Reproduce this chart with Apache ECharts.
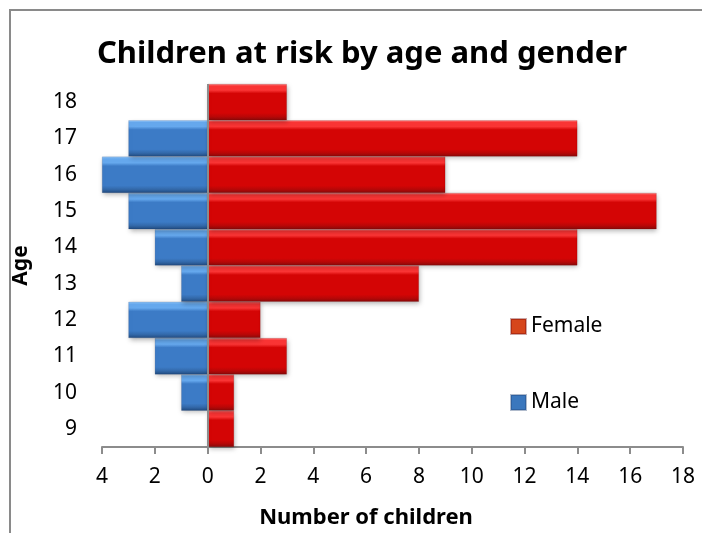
<!DOCTYPE html>
<html>
<head>
<meta charset="utf-8">
<script src="https://cdn.jsdelivr.net/npm/echarts@6/dist/echarts.min.js"></script>
<style>
  html, body { margin: 0; padding: 0; background: #fff; }
  #chart { width: 702px; height: 533px; }
</style>
</head>
<body>
<div id="chart"></div>
<script>
// Ages from youngest (bottom) to oldest (top)
const ages = ['9', '10', '11', '12', '13', '14', '15', '16', '17', '18'];
// Children counts per age
const femaleCounts = [1, 1, 3, 2, 8, 14, 17, 9, 14, 3];
const maleCounts = [0, 1, 2, 3, 1, 2, 3, 4, 3, 0];
// Value axis range and tick step
const axisMin = -4;
const axisMax = 18;
const axisStep = 2;

const FONT = '"Noto Sans", "DejaVu Sans", sans-serif';

// Bevelled bar fill: bright top edge, flat body, dark bottom edge
function bevel(c) {
  return new echarts.graphic.LinearGradient(0, 0, 0, 1, [
    { offset: 0, color: c.edge },
    { offset: 0.06, color: c.light },
    { offset: 0.17, color: c.light },
    { offset: 0.26, color: c.main },
    { offset: 0.8, color: c.main },
    { offset: 0.9, color: c.shade },
    { offset: 1, color: c.dark }
  ]);
}

const femaleFill = bevel({ edge: '#ff7a7a', light: '#fa3535', main: '#d40505', shade: '#b80707', dark: '#860a0a' });
const maleFill = bevel({ edge: '#9ccdfb', light: '#66a9ee', main: '#3c7bc6', shade: '#3369aa', dark: '#214a7e' });

const chart = echarts.init(document.getElementById('chart'));

chart.setOption({
  animation: false,
  backgroundColor: '#ffffff',
  textStyle: { fontFamily: FONT },
  title: {
    text: 'Children at risk by age and gender',
    left: 357,
    textAlign: 'center',
    top: 34,
    textStyle: { fontFamily: FONT, fontWeight: 'bold', fontSize: 31, color: '#000' }
  },
  graphic: [
    {
      type: 'rect',
      silent: true,
      z: -10,
      shape: { x: 10, y: 10, width: 900, height: 700 },
      style: { fill: 'none', stroke: '#8a8a8a', lineWidth: 2 }
    },
    {
      type: 'text',
      style: {
        text: 'Number of children',
        x: 366,
        y: 518,
        align: 'center',
        verticalAlign: 'middle',
        font: 'bold 22px ' + FONT,
        fill: '#000'
      }
    }
  ],
  legend: {
    orient: 'vertical',
    left: 505,
    top: 311,
    itemGap: 55,
    itemWidth: 15,
    itemHeight: 15,
    icon: 'rect',
    data: [
      { name: 'Female', itemStyle: { color: '#d6461c' } },
      { name: 'Male', itemStyle: { color: '#3a77bd' } }
    ],
    textStyle: { fontFamily: FONT, fontSize: 21, color: '#000' }
  },
  grid: { left: 102, right: 19, top: 84, bottom: 86, containLabel: false },
  xAxis: {
    type: 'value',
    min: axisMin,
    max: axisMax,
    interval: axisStep,
    axisLine: { show: true, lineStyle: { color: '#8c8c8c', width: 2 } },
    axisTick: { show: true, length: 7, lineStyle: { color: '#8c8c8c', width: 2 } },
    splitLine: { show: false },
    axisLabel: {
      margin: 20,
      fontSize: 21,
      color: '#000',
      fontFamily: FONT,
      formatter: v => String(Math.abs(v))
    }
  },
  yAxis: {
    type: 'category',
    data: ages,
    name: 'Age',
    nameLocation: 'middle',
    nameGap: 70,
    nameRotate: 90,
    nameTextStyle: { fontFamily: FONT, fontWeight: 'bold', fontSize: 21, color: '#000' },
    axisLine: { show: false, onZero: false },
    axisTick: { show: false },
    axisLabel: { margin: 25, fontSize: 21, color: '#000', fontFamily: FONT }
  },
  series: [
    {
      name: 'Male',
      type: 'bar',
      data: maleCounts.map(v => -v),
      barWidth: '100%',
      barGap: '-100%',
      barCategoryGap: '0%',
      itemStyle: {
        color: maleFill,
        borderColor: 'rgba(30,60,110,0.35)',
        borderWidth: 0.5,
        shadowColor: 'rgba(0,0,0,0.3)',
        shadowBlur: 5,
        shadowOffsetX: 1,
        shadowOffsetY: 2
      }
    },
    {
      name: 'Female',
      type: 'bar',
      data: femaleCounts,
      barWidth: '100%',
      barGap: '-100%',
      barCategoryGap: '0%',
      itemStyle: {
        color: femaleFill,
        borderColor: 'rgba(110,0,0,0.35)',
        borderWidth: 0.5,
        shadowColor: 'rgba(0,0,0,0.3)',
        shadowBlur: 5,
        shadowOffsetX: 1,
        shadowOffsetY: 2
      },
      markLine: {
        silent: true,
        symbol: 'none',
        label: { show: false },
        lineStyle: { color: '#8c8c8c', width: 2, type: 'solid' },
        data: [[{ coord: [0, 0], y: 84 }, { coord: [0, 0], y: 454 }]]
      }
    }
  ]
});
</script>
</body>
</html>
